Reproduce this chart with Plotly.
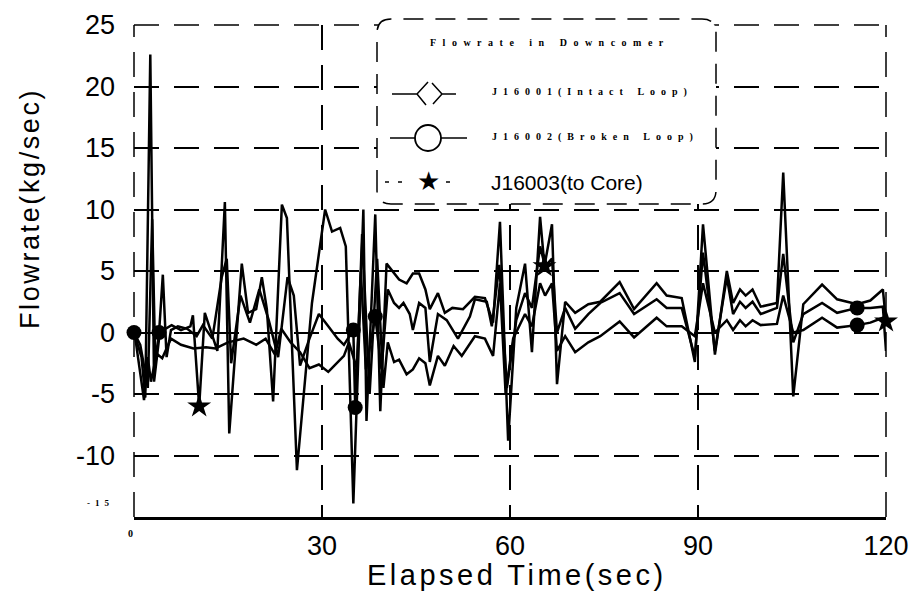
import plotly.graph_objects as go

# ---------------- data ----------------
t_J16003 = [0, 1.2, 1.8, 2.6, 3.2, 4.0, 5.0, 6.0, 7.5, 9.0, 9.4, 10.4, 11.3, 12.3, 13.3, 14.0, 14.5, 15.2, 16.3,
            17.2, 18.2, 19.5, 20.4, 21.2, 22.2, 23.6, 24.4, 26.0, 28.4, 30.5, 31.6, 32.9, 33.8, 35.0, 36.6, 37.1,
            38.5, 39.3, 40.3, 41.5, 42.3, 43.5, 44.5, 45.5, 46.5, 47.2, 48.5, 49.6, 50.8, 52.5, 54.4, 56.0, 57.3,
            58.4, 59.7, 61.0, 62.4, 63.5, 64.8, 65.5, 66.7, 67.5, 68.8, 70.4, 72.5, 74.4, 77.5, 79.8, 83.4, 85.0,
            87.4, 89.5, 90.8, 92.7, 94.6, 95.6, 96.7, 97.6, 98.7, 100.0, 102.6, 103.6, 105.2, 106.8, 109.8, 112.2,
            115.4, 117.5, 119.5, 120.0]
v_J16003 = [0, -2, -5.3, 22.6, -4, -0.5, 0.3, 0.6, 0.2, 0.5, 1.4, -6.0, 1.6, 0.1, -1.5, 5.4, 10.6, -8.2, -1.0,
            5.6, 1.6, 1.9, 4.5, 1.9, -5.6, 10.4, 9.3, -11.2, 2.4, 10.0, 8.2, 8.5, 7.0, -13.9, 10.0, -7.2,
            9.6, -6.4, 5.6, 4.8, 4.3, 4.0, 4.8, 4.8, 3.5, 1.9, 3.2, 1.6, 2.0, 1.9, 2.9, 2.8, 0.8,
            9.0, -8.8, 2.0, 5.6, -1.6, 9.4, 5.4, 8.8, -4.2, 2.5, 1.6, 2.3, 2.5, 4.1, 1.9, 4.0, 3.0,
            2.8, -2.4, 8.8, -1.8, 5.0, 2.4, 3.5, 3.0, 3.5, 2.1, 2.4, 13.0, -5.2, 2.3, 3.9, 2.7,
            2.3, 2.6, 3.5, 0.9]
mark_J16003 = [10.4, 65.5, 120.0]

t_J16002 = [0, 1.0, 1.7, 2.2, 2.9, 3.4, 4.0, 4.6, 5.2, 5.9, 7.0, 8.5, 10.0, 11.0, 12.5, 14.0, 14.8, 15.5, 17.0,
            18.5, 20.0, 21.5, 23.0, 24.5, 25.5, 26.5, 28.0, 29.5, 31.0, 32.5, 33.5, 35.0, 35.3, 36.2, 37.0, 38.5,
            39.5, 40.5, 41.5, 42.3, 43.0, 44.0, 44.5, 45.5, 46.5, 47.2, 48.5, 49.9, 51.7, 53.6, 54.4, 56.3, 57.1,
            58.3, 59.5, 61.0, 62.4, 63.5, 64.8, 65.6, 66.7, 67.5, 68.8, 70.4, 72.5, 74.4, 77.5, 79.8, 83.4, 85.0,
            87.4, 89.5, 90.8, 92.7, 94.6, 95.6, 96.7, 97.6, 98.7, 100.0, 102.6, 103.6, 105.2, 106.8, 109.8, 112.2,
            115.4, 117.5, 119.5, 120.0]
v_J16002 = [0, -1.0, -3.0, -4.5, 9.2, -2.5, 0.0, 4.7, -2.0, 0.2, 0.5, 0.3, -0.3, 0.6, -0.5, 4.5, 6.0, -2.5, 3.0,
            0.8, 3.5, 1.0, -2.0, 4.5, 3.0, -2.7, -0.5, 1.5, 0.5, -0.5, -1.0, 0.2, -6.1, 5.0, -3.0, 1.3,
            -3.0, 3.5, 2.4, 2.0, 2.4, 1.5, 0.2, 2.4, 2.0, -2.4, 1.5, 1.0, -0.5, 1.3, 2.7, 2.5, 0.5,
            5.5, -4.5, 1.0, 3.2, 2.0, 7.0, 5.4, 6.0, 0.0, 2.0, 0.3, 1.5, 2.4, 3.2, 1.5, 2.7, 2.0,
            2.0, -2.0, 6.5, -1.5, 4.5, 1.5, 2.5, 2.0, 2.5, 1.5, 2.0, 6.4, -0.8, 1.5, 2.4, 1.6,
            2.0, 2.0, 2.1, -1.5]
mark_J16002 = [0, 4.0, 35.0, 35.3, 38.5, 115.4]

t_J16001 = [0, 1.0, 1.6, 2.2, 2.7, 3.3, 3.8, 4.5, 5.9, 7.5, 9.5, 11.5, 13.0, 15.0, 17.5, 19.5, 21.0, 22.5, 23.5,
            25.0, 26.5, 28.0, 29.5, 31.0, 32.5, 33.5, 34.3, 35.6, 36.4, 37.6, 38.8, 39.8, 40.5, 41.5, 42.3, 43.5,
            44.5, 45.5, 46.5, 47.2, 48.5, 49.6, 51.0, 52.3, 54.4, 56.0, 57.3, 58.4, 59.3, 60.5, 62.4, 63.5, 64.8,
            65.6, 66.7, 67.5, 68.8, 70.4, 72.5, 74.4, 77.5, 79.8, 83.4, 85.0, 87.4, 89.5, 90.8, 92.7, 94.6, 95.6,
            96.7, 97.6, 98.7, 100.0, 102.6, 103.6, 105.2, 106.8, 109.8, 112.2, 115.4, 117.5, 119.5, 120.0]
v_J16001 = [0.3, -3.5, -5.5, -2.0, -4.0, -2.5, -1.8, -2.1, -0.5, -1.0, -1.3, -1.2, -1.3, -0.8, -0.5, -1.0, -0.5, -1.8, 0.3,
            -0.8, -1.6, -2.9, -2.6, -3.2, -2.4, -1.9, -0.8, -3.0, 8.0, -5.0, 6.0, -4.5, -0.8, -2.4, -2.2, -3.4,
            -3.0, -2.1, -2.5, -4.3, -1.9, -2.7, -1.1, -1.9, -0.3, -0.5, -1.9, 4.0, -5.0, -0.5, 1.5, 0.5, 4.0,
            3.0, 4.0, -1.5, -0.3, -1.6, -0.8, -0.3, 0.9, -0.4, 1.2, 0.5, 0.5, -0.3, 4.0, 0.0, 1.0, 0.2,
            1.0, 0.5, 1.0, 0.6, 0.7, 3.0, 0.0, 0.2, 1.2, 0.4, 0.6, 0.8, 1.2, 1.0]
mark_J16001 = [115.4]

x_ticks = [0, 30, 60, 90, 120]
y_ticks = [-15, -10, -5, 0, 5, 10, 15, 20, 25]

# ---------------- figure ----------------
W, H = 916, 608
L, R, T, B = 134, 886, 25, 517


def px(x):
    return (x - L) / (R - L)


def py(y):
    return (B - y) / (B - T)


def path(cmds):
    out = []
    for c in cmds:
        if isinstance(c, str):
            out.append(c)
        else:
            out.append(f"{px(c[0]):.5f},{py(c[1]):.5f}")
    return " ".join(out)


fig = go.Figure()
series = [
    (t_J16001, v_J16001, mark_J16001, "circle", 15),
    (t_J16002, v_J16002, mark_J16002, "circle", 15),
    (t_J16003, v_J16003, mark_J16003, "star", 18),
]
for t, v, marks, sym, size in series:
    assert len(t) == len(v)
    fig.add_trace(go.Scatter(x=t, y=v, mode="lines", line=dict(color="black", width=2.5),
                             hoverinfo="skip"))
    lut = dict(zip(t, v))
    fig.add_trace(go.Scatter(x=marks, y=[lut[m] for m in marks], mode="markers",
                             marker=dict(symbol=sym, size=size, color="black"),
                             cliponaxis=False, hoverinfo="skip"))

DASH = "25px,15px"
grid = dict(showgrid=True, gridcolor="black", gridwidth=1.5, griddash=DASH, zeroline=False,
            automargin=False)
tickfont = dict(family="Liberation Sans, Arial, sans-serif", size=27, color="black")

fig.update_xaxes(range=[0, 120], tickvals=x_ticks,
                 ticktext=["" if v == 0 else str(v) for v in x_ticks],
                 showline=True, linecolor="black", linewidth=3, ticks="",
                 tickfont=tickfont, ticklabelstandoff=3, **grid)
fig.update_yaxes(range=[-15, 25], tickvals=y_ticks,
                 ticktext=["" if v == -15 else str(v) for v in y_ticks],
                 showline=False, ticks="", tickfont=tickfont, ticklabelstandoff=18, **grid)

serif = "Liberation Serif, Times New Roman, serif"
sans = "Liberation Sans, Arial, sans-serif"
ann = [
    dict(text='<span style="letter-spacing:2.6px">Flowrate(kg/sec)</span>', textangle=-90,
         x=px(30), y=py(209), font=dict(family=sans, size=27, color="black")),
    dict(text='<span style="letter-spacing:3.5px">Elapsed Time(sec)</span>',
         x=px(517), y=py(575), font=dict(family=sans, size=29, color="black")),
    dict(text="<b>0</b>", x=px(130), y=py(533), font=dict(family=serif, size=10, color="black")),
    dict(text='<b><span style="letter-spacing:5px">-15</span></b>', x=px(100), y=py(503),
         font=dict(family=serif, size=9, color="black")),
    dict(text='<b><span style="letter-spacing:6.5px">Flowrate in Downcomer</span></b>',
         x=px(550), y=py(42), font=dict(family=serif, size=10, color="black")),
    dict(text='<b><span style="letter-spacing:6px">J16001(Intact Loop)</span></b>',
         x=px(490), y=py(92), xanchor="left", font=dict(family=serif, size=10, color="black")),
    dict(text='<b><span style="letter-spacing:6px">J16002(Broken Loop)</span></b>',
         x=px(490), y=py(137), xanchor="left", font=dict(family=serif, size=10, color="black")),
    dict(text="J16003(to Core)", x=px(489), y=py(182), xanchor="left",
         font=dict(family=sans, size=21, color="black")),
    dict(text="★", x=px(428), y=py(181), font=dict(family="DejaVu Sans", size=26, color="black")),
]
for a in ann:
    a.setdefault("xanchor", "center")
    a.setdefault("yanchor", "middle")
    a.update(xref="paper", yref="paper", showarrow=False)
fig.update_layout(annotations=ann)

shapes = []
# plot-area border: dashed top, left and right edges (like the grid)
for x0, y0, x1, y1 in [(0, 1, 1, 1), (0, 0, 0, 1), (1, 0, 1, 1)]:
    shapes.append(dict(type="line", x0=x0, y0=y0, x1=x1, y1=y1, xref="paper", yref="paper",
                       line=dict(color="black", width=1.5, dash=DASH), layer="below"))

# legend box (rounded, dashed)
bl, br, bt, bb, r = 377, 716, 19, 204, 14
box = path(["M", (bl, bb - r), "L", (bl, bt + r), "Q", (bl, bt), (bl + r, bt), "L", (br - r, bt),
            "Q", (br, bt), (br, bt + r), "L", (br, bb - r), "Q", (br, bb), (br - r, bb),
            "L", (bl + r, bb), "Q", (bl, bb), (bl, bb - r), "Z"])
shapes.append(dict(type="path", path=box, xref="paper", yref="paper", fillcolor="white",
                   line=dict(color="black", width=1.5, dash="20px,12px"), layer="above"))
glyph1 = path(["M", (392, 94), "L", (417, 94), "M", (428, 82), "L", (417, 94), "L", (426, 105),
               "M", (432, 83), "L", (442, 94), "L", (433, 104), "M", (442, 94), "L", (456, 94)])
shapes.append(dict(type="path", path=glyph1, xref="paper", yref="paper",
                   line=dict(color="black", width=1.5), layer="above"))
shapes.append(dict(type="line", x0=px(390), x1=px(467), y0=py(138), y1=py(138), xref="paper", yref="paper",
                   line=dict(color="black", width=1.5), layer="above"))
shapes.append(dict(type="circle", x0=px(415), x1=px(441), y0=py(151), y1=py(125), xref="paper", yref="paper",
                   fillcolor="white", line=dict(color="black", width=1.8), layer="above"))
for a0, a1 in [(385, 389), (398, 402), (446, 450)]:
    shapes.append(dict(type="line", x0=px(a0), x1=px(a1), y0=py(182), y1=py(182), xref="paper", yref="paper",
                       line=dict(color="black", width=1.5), layer="above"))
fig.update_layout(shapes=shapes)

fig.update_layout(width=W, height=H, margin=dict(l=L, r=W - R, t=T, b=H - B, autoexpand=False),
                  plot_bgcolor="white", paper_bgcolor="white", showlegend=False)
fig.write_html("out.html", config={"displayModeBar": False},
               post_script="document.body.style.margin='0px';document.body.style.padding='0px';")
